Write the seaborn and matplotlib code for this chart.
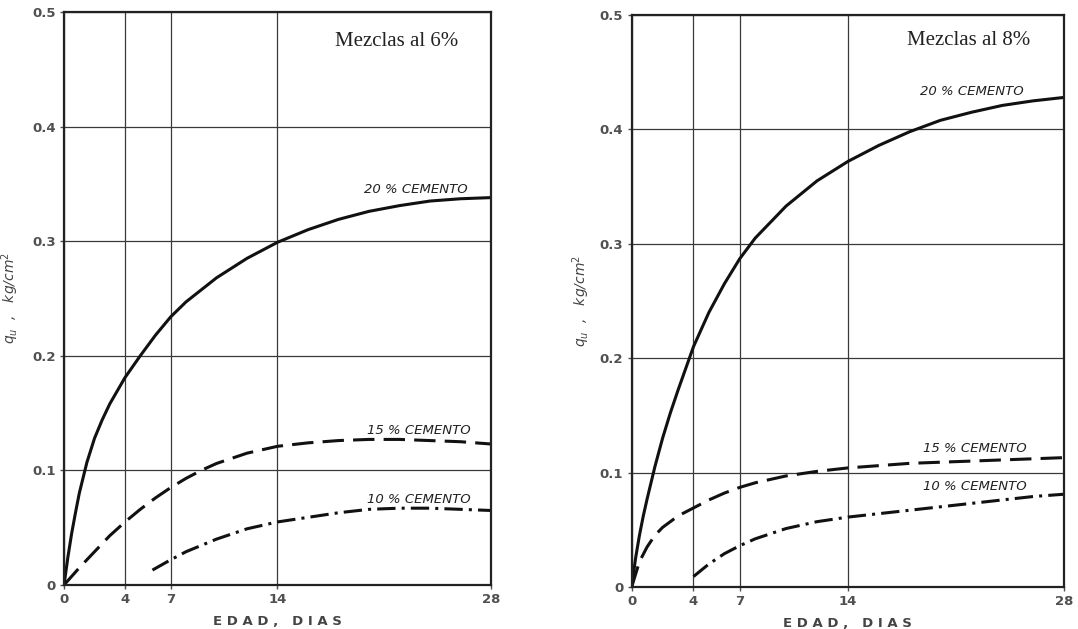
import matplotlib
matplotlib.use("Agg")
import matplotlib.pyplot as plt
import seaborn as sns
import pandas as pd

# --- datos ---
x_ticks = [0, 4, 7, 14, 28]
y_ticks = [0, 0.1, 0.2, 0.3, 0.4, 0.5]
y_ticklabels = ["0", "0.1", "0.2", "0.3", "0.4", "0.5"]
panel_titles = ["Mezclas al 6%", "Mezclas al 8%"]

# Mezclas al 6%
d6_20 = [0, 0.25, 0.5, 0.75, 1, 1.5, 2, 2.5, 3, 4, 5, 6, 7, 8, 10, 12, 14, 16, 18, 20, 22, 24, 26, 28]
q6_20 = [0, 0.024, 0.045, 0.063, 0.08, 0.107, 0.128, 0.144, 0.158, 0.181, 0.200, 0.218, 0.234,
         0.247, 0.268, 0.285, 0.299, 0.310, 0.319, 0.326, 0.331, 0.335, 0.337, 0.338]
d6_15 = [0, 1, 2, 3, 4, 5, 6, 7, 8, 9, 10, 12, 14, 16, 18, 20, 22, 24, 26, 28]
q6_15 = [0, 0.015, 0.029, 0.043, 0.055, 0.066, 0.076, 0.085, 0.093, 0.100, 0.106, 0.115,
         0.121, 0.124, 0.126, 0.127, 0.127, 0.126, 0.125, 0.123]
d6_10 = [5.8, 7, 8, 10, 12, 14, 16, 18, 20, 22, 24, 26, 28]
q6_10 = [0.013, 0.022, 0.029, 0.040, 0.049, 0.055, 0.059, 0.063, 0.066, 0.067, 0.067, 0.066, 0.065]

# Mezclas al 8%
d8_20 = [0, 0.25, 0.5, 0.75, 1, 1.5, 2, 2.5, 3, 4, 5, 6, 7, 8, 10, 12, 14, 16, 18, 20, 22, 24, 26, 28]
q8_20 = [0, 0.025, 0.045, 0.062, 0.077, 0.105, 0.130, 0.152, 0.172, 0.210, 0.240, 0.265, 0.287,
         0.305, 0.333, 0.355, 0.372, 0.386, 0.398, 0.408, 0.415, 0.421, 0.425, 0.428]
d8_15 = [0, 0.5, 1, 1.5, 2, 3, 4, 5, 6, 7, 8, 10, 12, 14, 16, 18, 20, 22, 24, 26, 28]
q8_15 = [0, 0.022, 0.035, 0.045, 0.052, 0.062, 0.069, 0.076, 0.082, 0.087, 0.091, 0.097, 0.101,
         0.104, 0.106, 0.108, 0.109, 0.110, 0.111, 0.112, 0.113]
d8_10 = [4, 5, 6, 7, 8, 10, 12, 14, 16, 18, 20, 22, 24, 26, 28]
q8_10 = [0.009, 0.020, 0.029, 0.036, 0.042, 0.051, 0.057, 0.061, 0.064, 0.067, 0.070, 0.073,
         0.076, 0.079, 0.081]

# posiciones de las etiquetas de cada curva (día, q_u)
label_pos = [
    {"20 % CEMENTO": (23.1, 0.3455), "15 % CEMENTO": (23.3, 0.135), "10 % CEMENTO": (23.3, 0.075)},
    {"20 % CEMENTO": (22.0, 0.433), "15 % CEMENTO": (22.2, 0.1206), "10 % CEMENTO": (22.2, 0.0874)},
]
title_pos = [(21.8, 0.474), (21.8, 0.478)]
ylabel_x = [-0.10, -0.092]


def build_df(d20, q20, d15, q15, d10, q10):
    parts = []
    for name, d, q in [("20%", d20, q20), ("15%", d15, q15), ("10%", d10, q10)]:
        parts.append(pd.DataFrame({"dias": d, "qu": q, "serie": name}))
    return pd.concat(parts, ignore_index=True)


frames = [build_df(d6_20, q6_20, d6_15, q6_15, d6_10, q6_10),
          build_df(d8_20, q8_20, d8_15, q8_15, d8_10, q8_10)]

# --- estilo ---
sns.set_theme(style="white")
plt.rcParams["font.family"] = ["DejaVu Sans"]

fig = plt.figure(figsize=(10.78, 6.29), dpi=100)
axes = [fig.add_axes([0.0594, 0.070, 0.396, 0.911]),
        fig.add_axes([0.586, 0.067, 0.401, 0.909])]

dash_map = {"20%": "", "15%": (7, 3), "10%": (6, 2, 1, 2)}
tick_color = "#505050"

for i, ax in enumerate(axes):
    sns.lineplot(data=frames[i], x="dias", y="qu", style="serie", dashes=dash_map,
                 color="#111111", linewidth=2.2, estimator=None, sort=False,
                 legend=False, ax=ax)
    ax.set_xlim(0, 28)
    ax.set_ylim(0, 0.5)
    ax.set_xticks(x_ticks)
    ax.set_xticklabels([str(t) for t in x_ticks])
    ax.set_yticks(y_ticks)
    ax.set_yticklabels(y_ticklabels)
    ax.grid(True, color="#3a3a3a", linewidth=0.9)
    for sp in ax.spines.values():
        sp.set_visible(True)
        sp.set_color("#222222")
        sp.set_linewidth(1.6)
    ax.tick_params(axis="both", length=3, width=1, colors=tick_color, labelsize=9.5, pad=3,
                   bottom=True, left=True)
    for lab in ax.get_xticklabels() + ax.get_yticklabels():
        lab.set_fontweight("bold")
    ax.set_xlabel("E D A D ,   D I A S", fontsize=9.5, color="#444444", labelpad=6,
                  fontweight="bold")
    ax.set_ylabel("q$_u$  ,   kg/cm$^2$", fontsize=10, color="#444444", style="italic")
    ax.yaxis.set_label_coords(ylabel_x[i], 0.5)

    tx, ty = title_pos[i]
    ax.text(tx, ty, panel_titles[i], fontsize=15, family="Liberation Serif",
            ha="center", va="center", color="#222222")
    for txt, (lx, ly) in label_pos[i].items():
        ax.text(lx, ly, txt, fontsize=9.5, style="italic", ha="center", va="center",
                color="#222222")

fig.savefig("out.png", dpi=100)
